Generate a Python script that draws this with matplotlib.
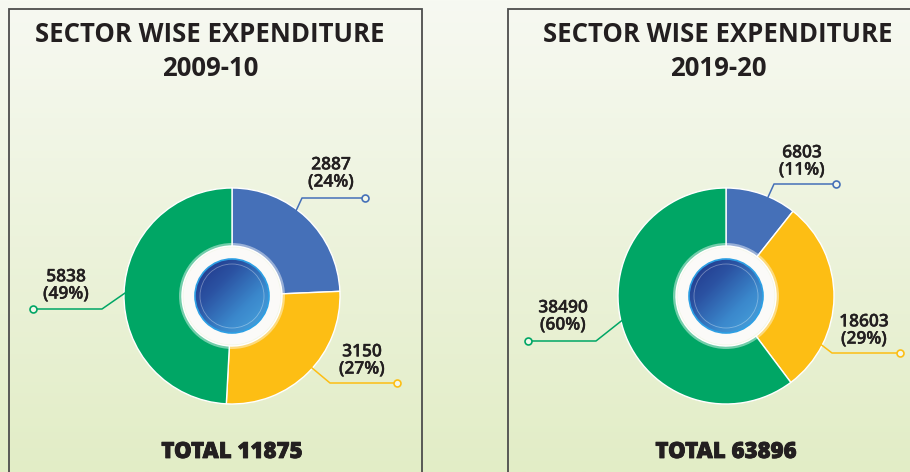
import numpy as np
import matplotlib
matplotlib.use("Agg")
import matplotlib.pyplot as plt
import matplotlib.patheffects as pe
from matplotlib.patches import Circle, Rectangle
from matplotlib.colors import LinearSegmentedColormap

# ---------------- data ----------------
chart_title = "SECTOR WISE EXPENDITURE"
years = ["2009-10", "2019-20"]
values_2009_10 = [2887, 3150, 5838]
values_2019_20 = [6803, 18603, 38490]
sector_colors = ["#4570B8", "#FDBE14", "#00A665"]

# ---------------- layout ----------------
W, H = 910, 472
FONT = ["Open Sans", "DejaVu Sans"]
TXT = "#231f20"

fig = plt.figure(figsize=(W / 100, H / 100), dpi=100)
ax = fig.add_axes([0, 0, 1, 1])


def Y(y):
    return H - y


# background gradient
bg_cmap = LinearSegmentedColormap.from_list("bg", ["#f7f9f2", "#e2edc6"])
ax.imshow(np.linspace(0, 1, 256)[:, None], cmap=bg_cmap, extent=(0, W, 0, H),
          origin="upper", aspect="auto", zorder=0)

# panel frames
for x0, x1 in [(9, 422), (508, 930)]:
    ax.add_patch(Rectangle((x0, -20), x1 - x0, Y(9) + 20, fc="none",
                           ec="#4d4d4d", lw=1.3, zorder=1))

ball_cmap = LinearSegmentedColormap.from_list(
    "ball", ["#1f3286", "#2b52a2", "#3b88cc", "#4aa8e0"])

R_OUT = 108

# per-label layout: anchor angle (deg clockwise from top), elbow (px), end x, text centre (px)
layouts = [
    dict(cx=232, cy=296, title_x=210,
         labels=[dict(ang=37, elbow=(302, 198), end_x=365, text=(331, 174)),
                 dict(ang=132, elbow=(330, 383), end_x=397, text=(362, 361)),
                 dict(ang=272, elbow=(102, 309), end_x=33, text=(66, 286))]),
    dict(cx=726, cy=296, title_x=718,
         labels=[dict(ang=23, elbow=(774, 184), end_x=836, text=(802, 162)),
                 dict(ang=117, elbow=(832, 353), end_x=900, text=(864, 331)),
                 dict(ang=257, elbow=(596, 341), end_x=528, text=(563, 317))]),
]
all_values = [values_2009_10, values_2019_20]

label_fx = [pe.withStroke(linewidth=0.25, foreground=TXT)]
total_fx = [pe.withStroke(linewidth=0.6, foreground=TXT)]

for year, vals, lay in zip(years, all_values, layouts):
    cx, cy = lay["cx"], lay["cy"]
    c = (cx, Y(cy))
    total = sum(vals)

    ax.pie(vals, colors=sector_colors, startangle=90, counterclock=False,
           center=c, radius=R_OUT, frame=False,
           wedgeprops=dict(width=58, edgecolor="white", linewidth=1.0))
    for w in ax.patches[-3:]:
        w.set_zorder(2)

    # centre rings
    ax.add_patch(Circle(c, 53, fc="white", ec="none", alpha=0.45, zorder=3))
    ax.add_patch(Circle(c, 48.5, fc="#fbfaf8", ec="none", zorder=4))
    im = ax.imshow(
        (np.linspace(0, 1, 200)[None, :] + np.linspace(0, 1, 200)[:, None]) / 2,
        cmap=ball_cmap, extent=(cx - 37, cx + 37, Y(cy) - 37, Y(cy) + 37),
        origin="upper", aspect="auto", zorder=5)
    im.set_clip_path(Circle(c, 37, transform=ax.transData))
    ax.add_patch(Circle(c, 37, fc="none", ec="#2c9fe4", lw=1.2, zorder=6))
    ax.add_patch(Circle(c, 32, fc="none", ec=(1, 1, 1, 0.35), lw=0.6, zorder=6))

    # labels with leader lines
    for v, col, lb in zip(vals, sector_colors, lay["labels"]):
        th = np.deg2rad(lb["ang"])
        ax0 = cx + (R_OUT - 2) * np.sin(th)
        ay0 = cy - (R_OUT - 2) * np.cos(th)
        ex, ey = lb["elbow"]
        xs = [ax0, ex, lb["end_x"]]
        ys = [Y(ay0), Y(ey), Y(ey)]
        ax.plot(xs, ys, color=col, lw=1.1, zorder=7, solid_capstyle="round")
        ax.plot([lb["end_x"]], [Y(ey)], marker="o", ms=5, mfc="#f3f7ea",
                mec=col, mew=1.2, zorder=8)
        pct = round(v / total * 100)
        tx, ty = lb["text"]
        ax.text(tx, Y(ty), f"{v}\n({pct}%)", ha="center", va="center",
                fontsize=12.5, fontweight="semibold", family=FONT, color=TXT,
                linespacing=1.1, zorder=9, path_effects=label_fx)

    # titles
    ax.text(lay["title_x"], Y(34), chart_title, ha="center", va="center",
            fontsize=18.5, fontweight="bold", family=FONT, color=TXT, zorder=9)
    ax.text(lay["title_x"], Y(68), year, ha="center", va="center",
            fontsize=18.5, fontweight="bold", family=FONT, color=TXT, zorder=9)
    ax.text(cx, Y(452), f"TOTAL {total}", ha="center", va="center",
            fontsize=16, fontweight="heavy", family=FONT, color=TXT, zorder=9,
            path_effects=total_fx)

ax.set_xlim(0, W)
ax.set_ylim(0, H)
ax.set_aspect("auto")
ax.axis("off")
fig.savefig("out.png", dpi=100)
